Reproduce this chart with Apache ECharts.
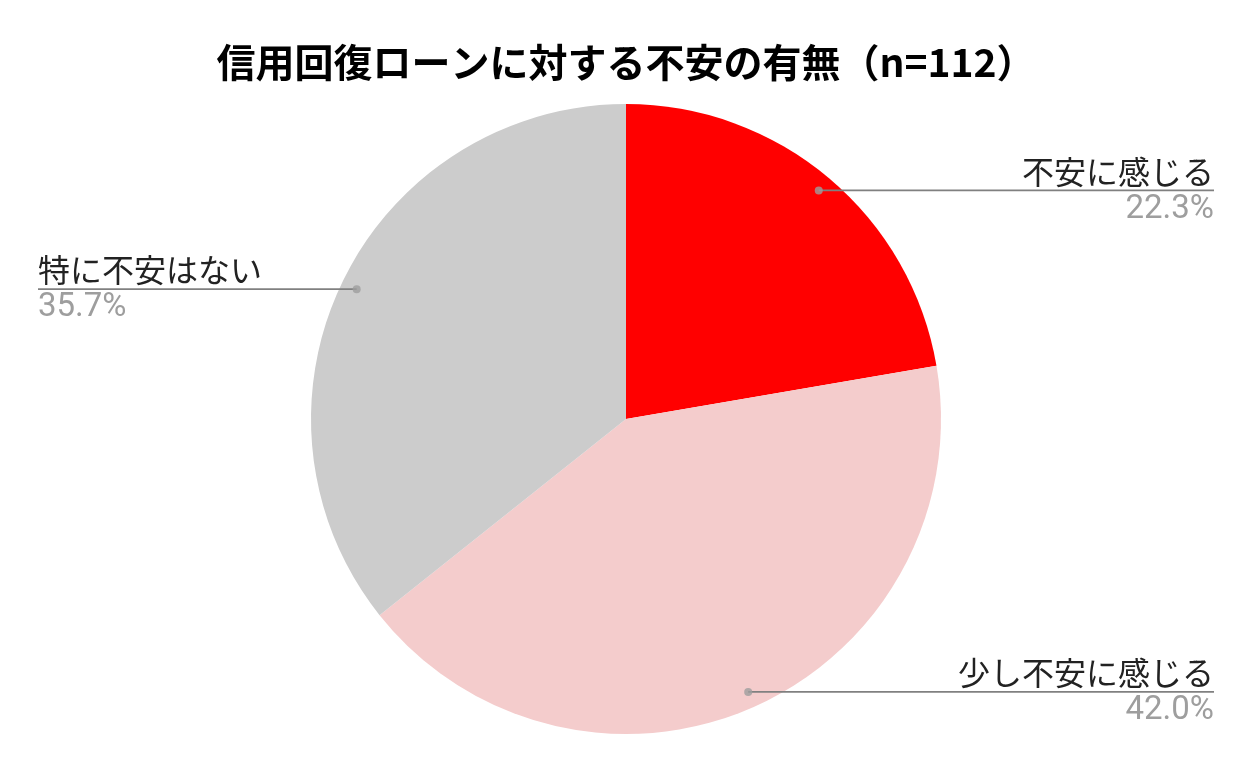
<!DOCTYPE html>
<html>
<head>
<meta charset="utf-8">
<script src="https://cdn.jsdelivr.net/npm/echarts@6/dist/echarts.min.js"></script>
<style>
  html, body { margin: 0; padding: 0; background: #fff; }
  #chart { width: 1252px; height: 774px; }
</style>
</head>
<body>
<div id="chart"></div>
<script>
// 回答の区分と割合（%）
var categories = ['不安に感じる', '少し不安に感じる', '特に不安はない'];
var percents = [22.3, 42.0, 35.7];
var sliceColors = ['#ff0000', '#f4cccc', '#cccccc'];

var PIE_R = 315, PIE_CY = 419, DOT_R = 299;

var chart = echarts.init(document.getElementById('chart'));

// 円グラフのデータ
var pieData = categories.map(function (name, i) {
    return { name: name, value: percents[i], itemStyle: { color: sliceColors[i] } };
});
// ラベル用の透明な円（引き出し線を扇形の上に描くため）
var labelData = categories.map(function (name, i) {
    return { name: name, value: percents[i] };
});

// 引き出し線の点（各扇形の中央角）
var total = percents.reduce(function (a, b) { return a + b; }, 0);
var dotData = [], acc = 0;
for (var i = 0; i < percents.length; i++) {
    dotData.push([DOT_R / PIE_R, (acc + percents[i] / 2) / total * 100]);
    acc += percents[i];
}

var option = {
    animation: false,
    title: {
        text: '信用回復ローンに対する不安の有無（n=112）',
        left: 'center',
        top: 37,
        textStyle: {
            fontFamily: 'Noto Sans CJK JP',
            fontSize: 39,
            lineHeight: 40,
            fontWeight: 'bold',
            color: '#000'
        }
    },
    polar: { center: ['50%', PIE_CY], radius: PIE_R },
    angleAxis: { type: 'value', min: 0, max: 100, startAngle: 90, clockwise: true, show: false },
    radiusAxis: { type: 'value', min: 0, max: 1, show: false },
    series: [{
        type: 'pie',
        center: ['50%', PIE_CY],
        radius: PIE_R,
        startAngle: 90,
        clockwise: true,
        silent: true,
        data: pieData,
        itemStyle: { borderWidth: 0 },
        label: { show: false },
        labelLine: { show: false }
    }, {
        type: 'pie',
        z: 5,
        center: ['50%', PIE_CY],
        radius: PIE_R,
        startAngle: 90,
        clockwise: true,
        silent: true,
        data: labelData,
        itemStyle: { color: 'rgba(0,0,0,0)', borderWidth: 0 },
        label: {
            show: true,
            position: 'outer',
            alignTo: 'edge',
            edgeDistance: 38,
            formatter: function (p) {
                return '{n|' + p.name + '}\n{p|' + p.value.toFixed(1) + '%}';
            },
            rich: {
                n: { fontFamily: 'Noto Sans CJK JP', fontSize: 32, color: '#222', lineHeight: 38 },
                p: { fontFamily: 'Roboto', fontSize: 33, color: '#9e9e9e', lineHeight: 38 }
            }
        },
        labelLine: {
            show: true,
            length: DOT_R - PIE_R,
            length2: 10,
            smooth: false,
            minTurnAngle: 0,
            maxSurfaceAngle: 180,
            lineStyle: { color: '#808080', width: 1.6 }
        },
        labelLayout: function (params) {
            var pts = params.labelLinePoints;
            if (!pts) return {};
            var cx = chart.getWidth() / 2;
            var vx = pts[0][0] - cx, vy = pts[0][1] - PIE_CY;
            var len = Math.sqrt(vx * vx + vy * vy) || 1;
            var dx = cx + vx / len * DOT_R, dy = PIE_CY + vy / len * DOT_R;
            var r = params.labelRect;
            var endX = (r.x + r.width / 2 > cx) ? r.x + r.width : r.x;
            return { labelLinePoints: [[dx, dy], [dx, dy], [endX, dy]] };
        }
    }, {
        type: 'scatter',
        coordinateSystem: 'polar',
        silent: true,
        z: 10,
        symbolSize: 8,
        itemStyle: { color: '#9e9e9e' },
        data: dotData
    }]
};

chart.setOption(option);
</script>
</body>
</html>
